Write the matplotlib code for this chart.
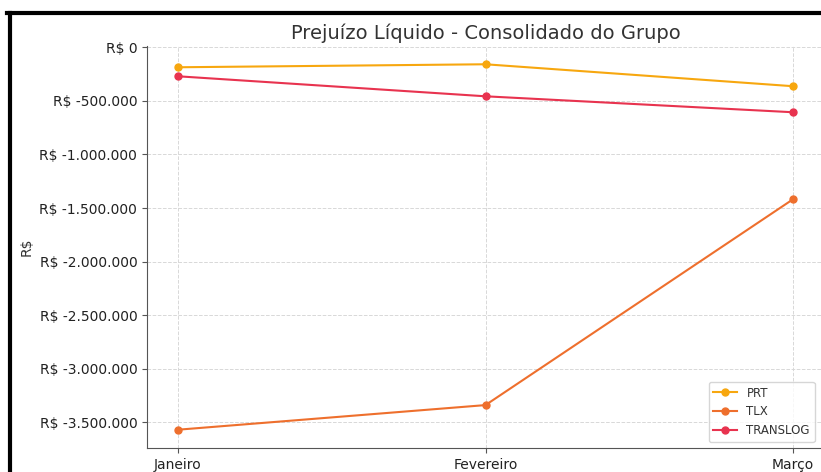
import matplotlib.pyplot as plt
from matplotlib.lines import Line2D
from matplotlib.ticker import FuncFormatter

meses = ['Janeiro', 'Fevereiro', 'Março']
prt = [-186000, -158000, -363000]
tlx = [-3570000, -3340000, -1417000]
translog = [-270000, -457000, -606000]

fig = plt.figure(figsize=(8.21, 4.72), dpi=100)
W, H = 821, 472
ax = fig.add_axes([147 / W, (H - 448) / H, (824 - 147) / W, (448 - 46) / H])

ax.plot(meses, prt, marker='o', color='#F7A70F', label='PRT', linewidth=1.5, markersize=5)
ax.plot(meses, tlx, marker='o', color='#EE6F2D', label='TLX', linewidth=1.5, markersize=5)
ax.plot(meses, translog, marker='o', color='#E8334F', label='TRANSLOG', linewidth=1.5, markersize=5)

def fmt(v, pos):
    return 'R$ ' + f'{v:,.0f}'.replace(',', '.')

ax.yaxis.set_major_formatter(FuncFormatter(fmt))
ax.set_title('Prejuízo Líquido - Consolidado do Grupo', fontsize=14, color='#333333', pad=5)
ax.set_ylabel('R$', fontsize=10, color='#333333')
ax.tick_params(labelsize=10, labelcolor='#222222', color='#555555')
ax.grid(True, linestyle='--', color='#d8d8d8', linewidth=0.7)
ax.spines['top'].set_visible(False)
ax.spines['right'].set_visible(False)
ax.spines['left'].set_color('#555555')
ax.spines['bottom'].set_color('#555555')
leg = ax.legend(loc='lower right', fontsize=8.5, bbox_to_anchor=(0.995, 0.0))
for t in leg.get_texts():
    t.set_color('#333333')

# screenshot border
fig.add_artist(Line2D([7 / W, 1], [1 - 13 / H, 1 - 13 / H], color='black', linewidth=3))
fig.add_artist(Line2D([10 / W, 10 / W], [0, 1 - 13 / H], color='black', linewidth=3))

plt.savefig('out.png', dpi=100)
